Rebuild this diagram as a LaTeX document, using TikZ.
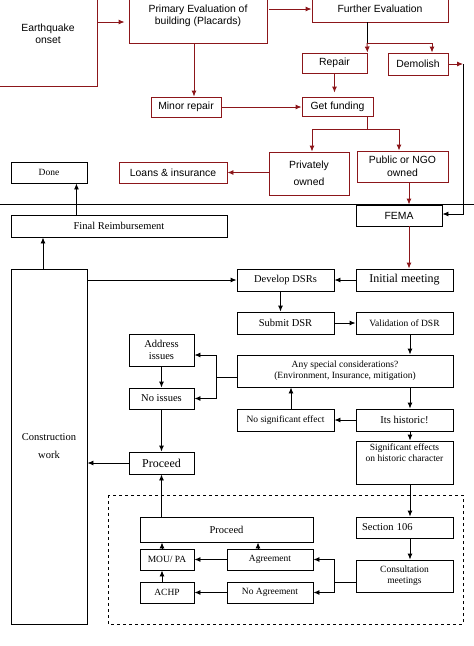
\documentclass[tikz,border=0pt]{standalone}
\usepackage{fontspec}
\setmainfont{Liberation Serif}
\setsansfont{Liberation Sans}
\usetikzlibrary{arrows.meta}

\definecolor{quakered}{RGB}{140,22,26}
\newcommand{\topfont}{\sffamily\fontsize{10.4pt}{12.5pt}\selectfont}
\newcommand{\midfont}{\fontsize{10.5pt}{12pt}\selectfont}
\newcommand{\smallfont}{\fontsize{9.5pt}{11pt}\selectfont}
\newcommand{\bigfont}{\fontsize{12pt}{14pt}\selectfont}

\tikzset{
  redbox/.style={draw=quakered, line width=0.9pt, align=center, inner sep=0pt, font=\topfont},
  blackbox/.style={draw=black, line width=0.9pt, align=center, inner sep=0pt, font=\midfont},
  redline/.style={draw=quakered, line width=0.9pt, -{Latex[length=6pt,width=5pt]}},
  blackline/.style={draw=black, line width=0.9pt, -{Latex[length=6pt,width=5pt]}},
}

\begin{document}
\begin{tikzpicture}[x=1pt, y=-1pt]
            \useasboundingbox (0,0) rectangle (474,646);

            % Define vertices (top part)
            \node[redbox, minimum width=98pt, minimum height=104pt] (quake) at (48,34) {Earthquake\\onset};
            \node[redbox, minimum width=138pt, minimum height=54pt] (primary) at (198,16) {Primary Evaluation of\\building (Placards)};
            \node[redbox, minimum width=136pt, minimum height=26pt] (further) at (380,9) {Further Evaluation};
            \node[redbox, minimum width=65pt, minimum height=20pt] (repair) at (334.5,63) {Repair};
            \node[redbox, minimum width=60pt, minimum height=22pt] (demolish) at (418,64) {Demolish};
            \node[redbox, minimum width=70pt, minimum height=20pt] (minor) at (186,107) {Minor repair};
            \node[redbox, minimum width=71pt, minimum height=19pt] (funding) at (337.5,106.5) {Get funding};
            \node[redbox, minimum width=80pt, minimum height=43pt] (private) at (309,173.5) {Privately\\[5pt]owned};
            \node[redbox, minimum width=91pt, minimum height=31pt] (public) at (402.5,166.5) {Public or NGO\\owned};
            \node[redbox, minimum width=108pt, minimum height=21pt] (loans) at (173,172.5) {Loans \& insurance};
            \node[redbox, draw=black, minimum width=86pt, minimum height=21pt] (fema) at (399,215.5) {FEMA};

            % Define vertices (bottom part)
            \node[blackbox, font=\smallfont, minimum width=76pt, minimum height=21pt] (done) at (49,172.5) {Done};
            \node[blackbox, minimum width=216pt, minimum height=22pt] (finalre) at (119,226) {Final Reimbursement};
            \node[blackbox, font=\bigfont, minimum width=97pt, minimum height=22pt] (initial) at (404.5,280) {Initial meeting};
            \node[blackbox, minimum width=97pt, minimum height=22pt] (develop) at (285.5,280) {Develop DSRs};
            \node[blackbox, minimum width=76pt, minimum height=355pt] (construct) at (49,446.5) {Construction\\[6pt]work};
            \node[blackbox, minimum width=97pt, minimum height=22pt] (submit) at (285.5,323) {Submit DSR};
            \node[blackbox, font=\smallfont, minimum width=97pt, minimum height=22pt] (validate) at (404.5,323) {Validation of DSR};
            \node[blackbox, font=\smallfont, minimum width=216pt, minimum height=32pt] (special) at (345,371) {Any special considerations?\\(Environment, Insurance, mitigation)};
            \node[blackbox, minimum width=65pt, minimum height=32pt] (address) at (161.5,350) {Address\\issues};
            \node[blackbox, minimum width=65pt, minimum height=21pt] (noissue) at (161.5,398.5) {No issues};
            \node[blackbox, minimum width=97pt, minimum height=22pt] (historic) at (404.5,420) {Its historic!};
            \node[blackbox, font=\smallfont, minimum width=97pt, minimum height=22pt] (nosig) at (285.5,420) {No significant effect};
            \node[blackbox, font=\smallfont, minimum width=97pt, minimum height=43pt] (sigeff) at (404.5,462.5) {Significant effects\\on historic character\\[9pt]};
            \node[blackbox, font=\bigfont, minimum width=65pt, minimum height=22pt] (proceed) at (161.5,463) {Proceed};
            \node[blackbox, minimum width=173pt, minimum height=25pt] (proceedin) at (226.5,529.5) {Proceed};
            \node[blackbox, align=left, text width=85pt, inner xsep=6pt, minimum height=21pt] (section) at (404.5,527.5) {Section 106};
            \node[blackbox, font=\smallfont, minimum width=97pt, minimum height=32pt] (consult) at (404.5,576) {Consultation\\meetings};
            \node[blackbox, font=\smallfont, minimum width=86pt, minimum height=21pt] (agree) at (270,559.5) {Agreement};
            \node[blackbox, font=\smallfont, minimum width=86pt, minimum height=21pt] (noagree) at (270,592.5) {No Agreement};
            \node[blackbox, font=\smallfont, minimum width=54pt, minimum height=21pt] (mou) at (167,559.5) {MOU/ PA};
            \node[blackbox, font=\smallfont, minimum width=54pt, minimum height=21pt] (achp) at (167,592.5) {ACHP};

            % Split points
            \coordinate (fsplit) at (367,43);
            \coordinate (gsplit) at (367,129);
            \coordinate (dcorner) at (463,64);
            \coordinate (ssplit) at (216,377);
            \coordinate (csplit) at (334,582);

            % Draw edges with arrows (top part)
            \draw[redline, shorten >=4pt] ([yshift=12pt]quake.east) -- ([yshift=12pt]quake.east -| primary.west);
            \draw[redline] ([xshift=2pt]primary.east |- further.west) -- (further.west);
            \draw[line width=0.9pt] (fsplit |- further.south) -- (fsplit);
            \draw[redline] (fsplit) -- (repair.north east);
            \draw[redline] (fsplit) -| ([xshift=14pt]demolish.north);
            \draw[redline] (demolish.east) -- (dcorner);
            \draw[blackline] (dcorner) |- ([yshift=1.5pt]fema.east);
            \draw[redline] ([xshift=8pt]minor.north |- primary.south) -- ([xshift=8pt]minor.north);
            \draw[redline, shorten >=4pt] (repair.south) -- (repair.south |- funding.north);
            \draw[redline] (minor.east) -- (minor.east -| funding.west);
            \draw[quakered, line width=0.9pt] (gsplit |- funding.south) -- (gsplit);
            \draw[redline] (gsplit) -| ([xshift=3pt]private.north);
            \draw[redline] (gsplit) -| ([xshift=-3.5pt]public.north);
            \draw[redline] (private.west |- loans.east) -- (loans.east);
            \draw[redline] ([xshift=10pt]fema.north |- public.south) -- ([xshift=10pt]fema.north);

            % Separator
            \draw[line width=0.9pt] (0,204) -- (474,204);

            % Draw edges with arrows (bottom part)
            \draw[redline] ([xshift=10pt]fema.south) -- ([xshift=10pt]fema.south |- initial.north);
            \draw[blackline] ([xshift=-11pt]done.south east |- finalre.north) -- ([xshift=-11pt]done.south east);
            \draw[blackline] ([xshift=-6pt]construct.north) -- ([xshift=-6pt]construct.north |- finalre.south);
            \draw[blackline] (construct.east |- develop.west) -- (develop.west);
            \draw[blackline] (initial.west) -- (develop.east);
            \draw[blackline] ([xshift=-5pt]develop.south) -- ([xshift=-5pt]submit.north);
            \draw[blackline] (submit.east) -- (validate.west);
            \draw[blackline] ([xshift=5.5pt]validate.south) -- ([xshift=5.5pt]validate.south |- special.north);
            \draw[line width=0.9pt] (ssplit -| special.west) -- (ssplit);
            \draw[blackline] (ssplit) |- ([yshift=-5pt]address.east);
            \draw[blackline] (ssplit) |- (noissue.east);
            \draw[blackline] (address.south) -- (noissue.north);
            \draw[blackline] (noissue.south) -- (proceed.north);
            \draw[blackline] ([xshift=5.5pt]historic.north |- special.south) -- ([xshift=5.5pt]historic.north);
            \draw[blackline] (historic.west) -- (nosig.east);
            \draw[blackline] ([xshift=5.5pt]nosig.north) -- ([xshift=5.5pt]nosig.north |- special.south);
            \draw[blackline] ([xshift=5.5pt]historic.south) -- ([xshift=5.5pt]sigeff.north);
            \draw[blackline] ([xshift=5.5pt]sigeff.south) -- ([xshift=5.5pt]section.north);
            \draw[blackline] ([xshift=5.5pt]section.south) -- ([xshift=5.5pt]consult.north);
            \draw[blackline] (proceed.west) -- (proceed.west -| construct.east);
            \draw[blackline] (proceed.south |- proceedin.north) -- (proceed.south);

            % Dashed frame
            \draw[dashed, line width=0.9pt] (108,495) rectangle (463,624);

            \draw[line width=0.9pt] (consult.west |- csplit) -- (csplit);
            \draw[blackline] (csplit) |- (agree.east);
            \draw[blackline] (csplit) |- (noagree.east);
            \draw[blackline] (agree.west) -- (mou.east);
            \draw[blackline] (noagree.west) -- (achp.east);
            \draw[blackline] ([xshift=-5pt]achp.north) -- ([xshift=-5pt]mou.south);
            \draw[blackline] ([xshift=-5pt]mou.north) -- ([xshift=-5pt]mou.north |- proceedin.south);
            \draw[blackline] ([xshift=-12pt]agree.north) -- ([xshift=-12pt]agree.north |- proceedin.south);
        \end{tikzpicture}
\end{document}
